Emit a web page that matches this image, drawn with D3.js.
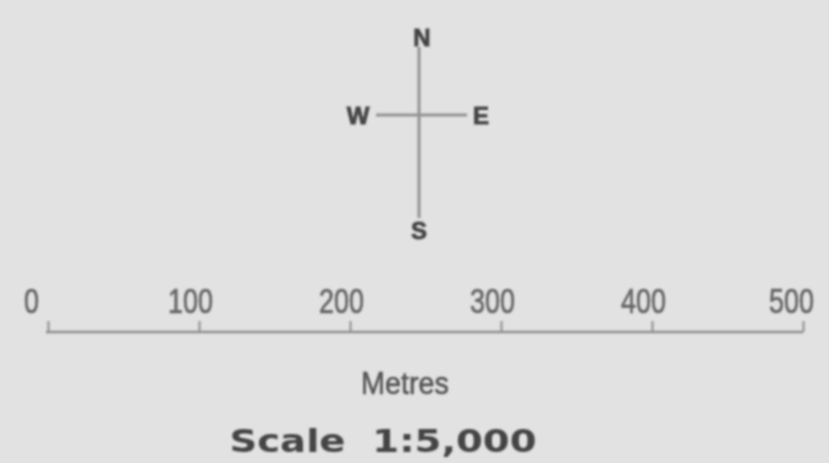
<!DOCTYPE html>
<html><head><meta charset="utf-8">
<script src="https://cdn.jsdelivr.net/npm/d3@7"></script>
<style>html,body{margin:0;padding:0;background:#e2e2e2;}svg{display:block;}</style>
</head><body>
<script>
const scaleTicks = [0, 100, 200, 300, 400, 500];
const scaleDomain = [0, 500];
const unitLabel = "Metres";
const scaleTitle = "Scale  1:5,000";
const directions = ["N", "E", "S", "W"];
const directionAngles = [0, 90, 180, 270];

const W = 829, H = 463;
const svg = d3.select("body").append("svg").attr("width", W).attr("height", H);
const defs = svg.append("defs");
defs.append("filter").attr("id", "blur").append("feGaussianBlur").attr("stdDeviation", 1);
svg.append("rect").attr("width", W).attr("height", H).attr("fill", "#e2e2e2");
const g = svg.append("g").attr("filter", "url(#blur)");

// Compass
const cx = 419, cy = 115;
const arms = {N: 68, S: 103, E: 48, W: 43};
const labelDist = {N: 78, S: 115, E: 62, W: 61};
const comp = g.append("g");
directions.forEach((d, i) => {
  const a = directionAngles[i] * Math.PI / 180;
  comp.append("line")
    .attr("x1", cx).attr("y1", cy)
    .attr("x2", cx + Math.sin(a) * arms[d]).attr("y2", cy - Math.cos(a) * arms[d])
    .attr("stroke", "#929292").attr("stroke-width", 3);
  comp.append("text")
    .attr("x", cx + Math.sin(a) * labelDist[d] + (d === "N" ? 3 : 0))
    .attr("y", cy - Math.cos(a) * labelDist[d])
    .attr("dy", "0.36em")
    .attr("text-anchor", "middle")
    .attr("font-family", "Liberation Sans, Arial, sans-serif")
    .attr("font-weight", "bold")
    .attr("font-size", 24)
    .attr("fill", "#444")
    .attr("stroke", "#444").attr("stroke-width", 0.8)
    .text(d);
});

// Scale bar
const x = d3.scaleLinear().domain(scaleDomain).range([48, 803]);
const barY = 332;
g.append("line").attr("x1", x(0) - 2).attr("x2", x(500)).attr("y1", barY).attr("y2", barY)
  .attr("stroke", "#8e8e8e").attr("stroke-width", 2.5);
const axis = d3.axisTop(x).tickValues(scaleTicks).tickSize(11).tickFormat(d3.format("d"));
const ax = g.append("g").attr("transform", `translate(0,${barY})`).call(axis);
ax.select(".domain").remove();
ax.selectAll(".tick line").attr("stroke", "#8e8e8e").attr("stroke-width", 2);
ax.selectAll(".tick text")
  .attr("fill", "#666")
  .attr("stroke", "#666").attr("stroke-width", 0.7)
  .attr("font-family", "Liberation Sans Narrow, Arial Narrow, sans-serif")
  .attr("font-size", 35)
  .attr("x", d => d === 0 ? -17 : (d === 500 ? -12 : -9))
  .attr("y", -19)
  .attr("dy", 0)
  .attr("textLength", d => d === 0 ? 15 : 45)
  .attr("lengthAdjust", "spacingAndGlyphs");

g.append("text").attr("x", 405).attr("y", 394).attr("text-anchor", "middle")
  .attr("font-family", "Liberation Sans Narrow, Arial Narrow, sans-serif")
  .attr("font-size", 31).attr("fill", "#555")
  .attr("stroke", "#555").attr("stroke-width", 0.6)
  .attr("textLength", 88).attr("lengthAdjust", "spacingAndGlyphs")
  .text(unitLabel);

g.append("text").attr("x", 383).attr("y", 452).attr("text-anchor", "middle")
  .attr("font-family", "DejaVu Sans, sans-serif").attr("font-weight", "bold")
  .attr("font-size", 32).attr("fill", "#444")
  .attr("textLength", 307).attr("lengthAdjust", "spacingAndGlyphs")
  .style("white-space", "pre")
  .text(scaleTitle);
</script>
</body></html>
